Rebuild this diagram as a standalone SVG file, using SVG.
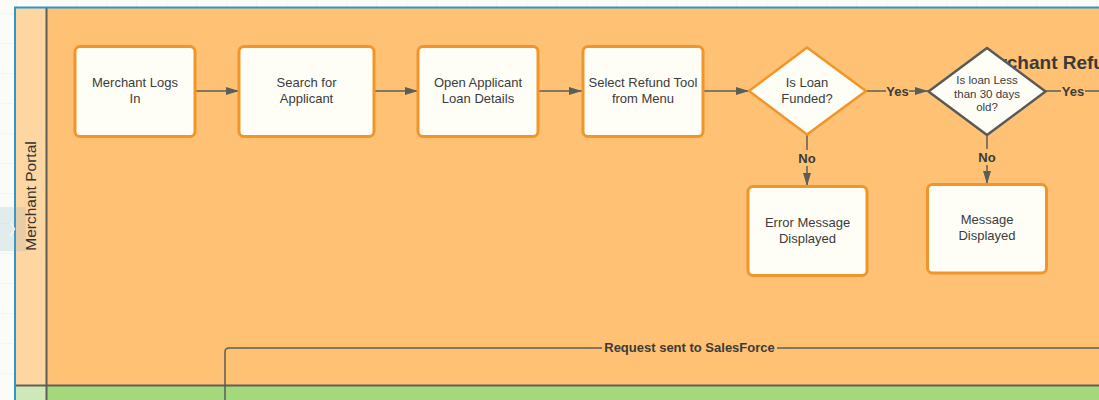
<svg xmlns="http://www.w3.org/2000/svg" width="1099" height="400" viewBox="0 0 1099 400">
<defs>
<style>
.box{fill:#fffef6;stroke:#f0952a;stroke-width:3}
.dia{fill:#fffef6;stroke:#f0952a;stroke-width:2.5;stroke-linejoin:round}
.dia2{fill:#fffef6;stroke:#585a56;stroke-width:2.5;stroke-linejoin:round}
.t{font-family:"Liberation Sans",Arial,sans-serif;font-size:13px;fill:#3b3b3b;text-anchor:middle}
.ts{font-family:"Liberation Sans",Arial,sans-serif;font-size:11.5px;fill:#3b3b3b;text-anchor:middle}
.lb{font-family:"Liberation Sans",Arial,sans-serif;font-size:13px;font-weight:bold;fill:#3b3b3b;text-anchor:middle}
.ln{stroke:#5b5d58;stroke-width:1.5;fill:none}
</style>
<marker id="ah" viewBox="0 0 13 8" refX="13" refY="4" markerWidth="13" markerHeight="8" markerUnits="userSpaceOnUse" orient="auto">
<path d="M0,0 L13,4 L0,8 Z" fill="#5b5d58"/>
</marker>
<pattern id="grid" width="30" height="30" patternUnits="userSpaceOnUse" x="16" y="13">
<path d="M0,0 H30 M0,0 V30" stroke="#eceee8" stroke-width="1" fill="none"/>
</pattern>
</defs>
<rect width="1099" height="400" fill="#fbfcf7"/>
<rect width="1099" height="400" fill="url(#grid)"/>
<g id="pool">
<rect x="16" y="8" width="1083" height="378" fill="#ffc173"/>
<rect x="16" y="8" width="30" height="378" fill="#fed6a2"/>
<rect x="16" y="386" width="1083" height="14" fill="#a3d97b"/>
<rect x="16" y="386" width="30" height="14" fill="#cfe8b9"/>
<line x1="46.5" y1="8" x2="46.5" y2="400" stroke="#5e5f58" stroke-width="2"/>
<line x1="16" y1="385.5" x2="1099" y2="385.5" stroke="#5e5f58" stroke-width="2"/>
<path d="M15,400 V7.5 H1099" stroke="#2d96cf" stroke-width="2" fill="none"/>
<text transform="translate(35.5,196) rotate(-90)" font-family="Liberation Sans,Arial,sans-serif" font-size="15.5" fill="#333" text-anchor="middle">Merchant Portal</text>
<text x="973" y="69" font-family="Liberation Sans,Arial,sans-serif" font-size="19" font-weight="bold" fill="#3a3a3a">Merchant Refund</text>
</g>
<g id="connectors">
<line class="ln" x1="195" y1="91" x2="239" y2="91" marker-end="url(#ah)"/>
<line class="ln" x1="374" y1="91" x2="418" y2="91" marker-end="url(#ah)"/>
<line class="ln" x1="538" y1="91" x2="582" y2="91" marker-end="url(#ah)"/>
<line class="ln" x1="703" y1="91" x2="749" y2="91" marker-end="url(#ah)"/>
<line class="ln" x1="866" y1="91" x2="886" y2="91"/>
<line class="ln" x1="909" y1="91" x2="928" y2="91" marker-end="url(#ah)"/>
<text class="lb" x="897.5" y="95.5">Yes</text>
<line class="ln" x1="1045" y1="91" x2="1061" y2="91"/>
<line class="ln" x1="1085" y1="91" x2="1099" y2="91"/>
<text class="lb" x="1073" y="95.5">Yes</text>
<line class="ln" x1="807" y1="134" x2="807" y2="150"/>
<line class="ln" x1="807" y1="166" x2="807" y2="186" marker-end="url(#ah)"/>
<text class="lb" x="807" y="163">No</text>
<line class="ln" x1="987" y1="135" x2="987" y2="149"/>
<line class="ln" x1="987" y1="165" x2="987" y2="184" marker-end="url(#ah)"/>
<text class="lb" x="987" y="162">No</text>
<path class="ln" d="M225,400 V352 Q225,348 229,348 H602 M777,348 H1099"/>
<text class="lb" x="689.5" y="352">Request sent to SalesForce</text>
</g>
<g id="n1"><rect class="box" x="75" y="46.5" width="120" height="90" rx="5"/><text class="t" x="135" y="87">Merchant Logs</text><text class="t" x="135" y="103">In</text></g>
<g id="n2"><rect class="box" x="239" y="46.5" width="135" height="90" rx="5"/><text class="t" x="306.5" y="87">Search for</text><text class="t" x="306.5" y="103">Applicant</text></g>
<g id="n3"><rect class="box" x="418" y="46.5" width="120" height="90" rx="5"/><text class="t" x="478" y="87">Open Applicant</text><text class="t" x="478" y="103">Loan Details</text></g>
<g id="n4"><rect class="box" x="583" y="46.5" width="120" height="90" rx="5"/><text class="t" x="643" y="87">Select Refund Tool</text><text class="t" x="643" y="103">from Menu</text></g>
<g id="d1"><path class="dia" d="M807,47.5 L866,91 L807,134.5 L749,91 Z"/><text class="t" x="807" y="87">Is Loan</text><text class="t" x="807" y="103">Funded?</text></g>
<g id="d2"><path class="dia2" d="M987,48 L1045.5,91.5 L987,135 L928.5,91.5 Z"/><text class="ts" x="987" y="84">Is loan Less</text><text class="ts" x="987" y="97.5">than 30 days</text><text class="ts" x="987" y="111">old?</text></g>
<g id="n5"><rect class="box" x="748" y="186.5" width="119" height="89" rx="5"/><text class="t" x="807.5" y="227">Error Message</text><text class="t" x="807.5" y="243">Displayed</text></g>
<g id="n6"><rect class="box" x="927.5" y="184.5" width="119" height="88.5" rx="5"/><text class="t" x="987" y="224">Message</text><text class="t" x="987" y="240">Displayed</text></g>
<g id="handle">
<rect x="0" y="207" width="26" height="44" fill="#7aa6c0" fill-opacity="0.18"/>
<path d="M10,222 L15,229 L10,236" stroke="#ffffff" stroke-width="1" fill="none"/>
</g>
</svg>
